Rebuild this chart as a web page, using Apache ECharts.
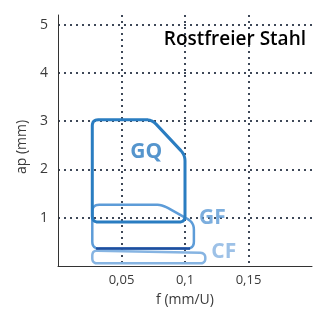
<!DOCTYPE html>
<html>
<head>
<meta charset="utf-8">
<script src="https://cdn.jsdelivr.net/npm/echarts@6/dist/echarts.min.js"></script>
<style>
  html, body { margin: 0; padding: 0; background: #fff; }
  #main { width: 318px; height: 312px; }
</style>
</head>
<body>
<div id="main"></div>
<script>
// Bereiche (f, ap) – Eckpunkte der Felder
var gqArea = [[0.027, 3.03], [0.074, 3.03], [0.1, 2.3], [0.1, 0.91], [0.027, 0.91]];
var gfArea = [[0.027, 1.27], [0.082, 1.27], [0.107, 0.9], [0.107, 0.36], [0.027, 0.36]];
var cfArea = [[0.027, 0.32], [0.116, 0.27], [0.116, 0.055], [0.027, 0.055]];
var gfBottom = [[0.03, 0.36], [0.104, 0.36]];
// Beschriftungen
var labelNames = ['GQ', 'GF', 'CF'];
var labelPos = [[0.0695, 2.37], [0.1215, 1.0], [0.1305, 0.3]];
var labelColors = ['#2a7bc0', '#5b9ad6', '#84b2e1'];
// Achsen
var xTicks = [0, 0.05, 0.1, 0.15, 0.2];
var yTicks = [0, 1, 2, 3, 4, 5];

var chart = echarts.init(document.getElementById('main'));

// Polygon mit abgerundeten Ecken (Pixel)
function roundPoints(pts, r) {
    var out = [];
    var n = pts.length;
    for (var i = 0; i < n; i++) {
        var p = pts[i], a = pts[(i - 1 + n) % n], b = pts[(i + 1) % n];
        var la = Math.hypot(a[0] - p[0], a[1] - p[1]);
        var lb = Math.hypot(b[0] - p[0], b[1] - p[1]);
        var rr = Math.min(r, la / 2, lb / 2);
        var p1 = [p[0] + (a[0] - p[0]) / la * rr, p[1] + (a[1] - p[1]) / la * rr];
        var p2 = [p[0] + (b[0] - p[0]) / lb * rr, p[1] + (b[1] - p[1]) / lb * rr];
        for (var k = 0; k <= 6; k++) {
            var t = k / 6, u = 1 - t;
            out.push([
                u * u * p1[0] + 2 * u * t * p[0] + t * t * p2[0],
                u * u * p1[1] + 2 * u * t * p[1] + t * t * p2[1]
            ]);
        }
    }
    return out;
}

function areaSeries(name, area, color, width, radius) {
    return {
        type: 'custom',
        name: name,
        data: area,
        encode: { x: 0, y: 1 },
        renderItem: function (params, api) {
            if (params.dataIndex !== 0) return null;
            var pts = area.map(function (v) { return api.coord(v); });
            return {
                type: 'polygon',
                shape: { points: roundPoints(pts, radius) },
                style: { fill: 'none', stroke: color, lineWidth: width, lineJoin: 'round' }
            };
        },
        z: 3
    };
}

var gridLine = { color: '#3e4858', width: 2, type: [2, 4] };

var option = {
    animation: false,
    textStyle: { fontFamily: 'Open Sans' },
    title: {
        text: 'Rostfreier Stahl',
        right: 12,
        top: 30,
        padding: 0,
        textStyle: { fontSize: 19, fontWeight: 600, color: '#000', fontFamily: 'Open Sans' }
    },
    grid: { left: 58, right: 6, top: 15, bottom: 44 },
    xAxis: {
        type: 'value',
        min: xTicks[0],
        max: xTicks[xTicks.length - 1],
        interval: 0.05,
        name: 'f (mm/U)',
        nameLocation: 'middle',
        nameGap: 27,
        nameTextStyle: { fontSize: 14, color: '#3a3a3a' },
        axisLine: { lineStyle: { color: '#333', width: 1 } },
        axisTick: { show: false },
        axisLabel: {
            showMinLabel: false,
            showMaxLabel: false,
            margin: 8,
            fontSize: 13,
            color: '#3a3a3a',
            formatter: function (v) { return String(+v.toFixed(2)).replace('.', ','); }
        },
        splitLine: { show: true, showMinLine: false, showMaxLine: false, lineStyle: gridLine }
    },
    yAxis: {
        type: 'value',
        min: yTicks[0],
        max: 5.2,
        interval: 1,
        name: 'ap (mm)',
        nameLocation: 'middle',
        nameGap: 28,
        nameTextStyle: { fontSize: 14, color: '#3a3a3a', padding: [0, 13, 0, 0] },
        axisLine: { show: true, lineStyle: { color: '#333', width: 1 } },
        axisTick: { show: false },
        axisLabel: {
            showMinLabel: false,
            showMaxLabel: false,
            margin: 10,
            fontSize: 14,
            color: '#3a3a3a'
        },
        splitLine: { show: true, showMinLine: false, showMaxLine: false, lineStyle: gridLine }
    },
    series: [
        areaSeries('CF', cfArea, '#86b4e2', 2.5, 5),
        areaSeries('GF', gfArea, '#5d9cd8', 2.5, 7),
        areaSeries('GQ', gqArea, '#2a7dc1', 3, 6),
        {
            type: 'line',
            data: gfBottom,
            showSymbol: false,
            lineStyle: { color: '#1f4e9e', width: 2.5 },
            z: 4
        },
        {
            type: 'scatter',
            symbolSize: 0,
            data: labelPos.map(function (p, i) {
                return {
                    value: p,
                    name: labelNames[i],
                    label: {
                        show: true,
                        position: 'inside',
                        formatter: '{b}',
                        fontSize: 21,
                        fontWeight: 'bold',
                        color: labelColors[i],
                        fontFamily: 'Open Sans'
                    }
                };
            }),
            z: 5
        }
    ]
};

chart.setOption(option);
</script>
</body>
</html>
